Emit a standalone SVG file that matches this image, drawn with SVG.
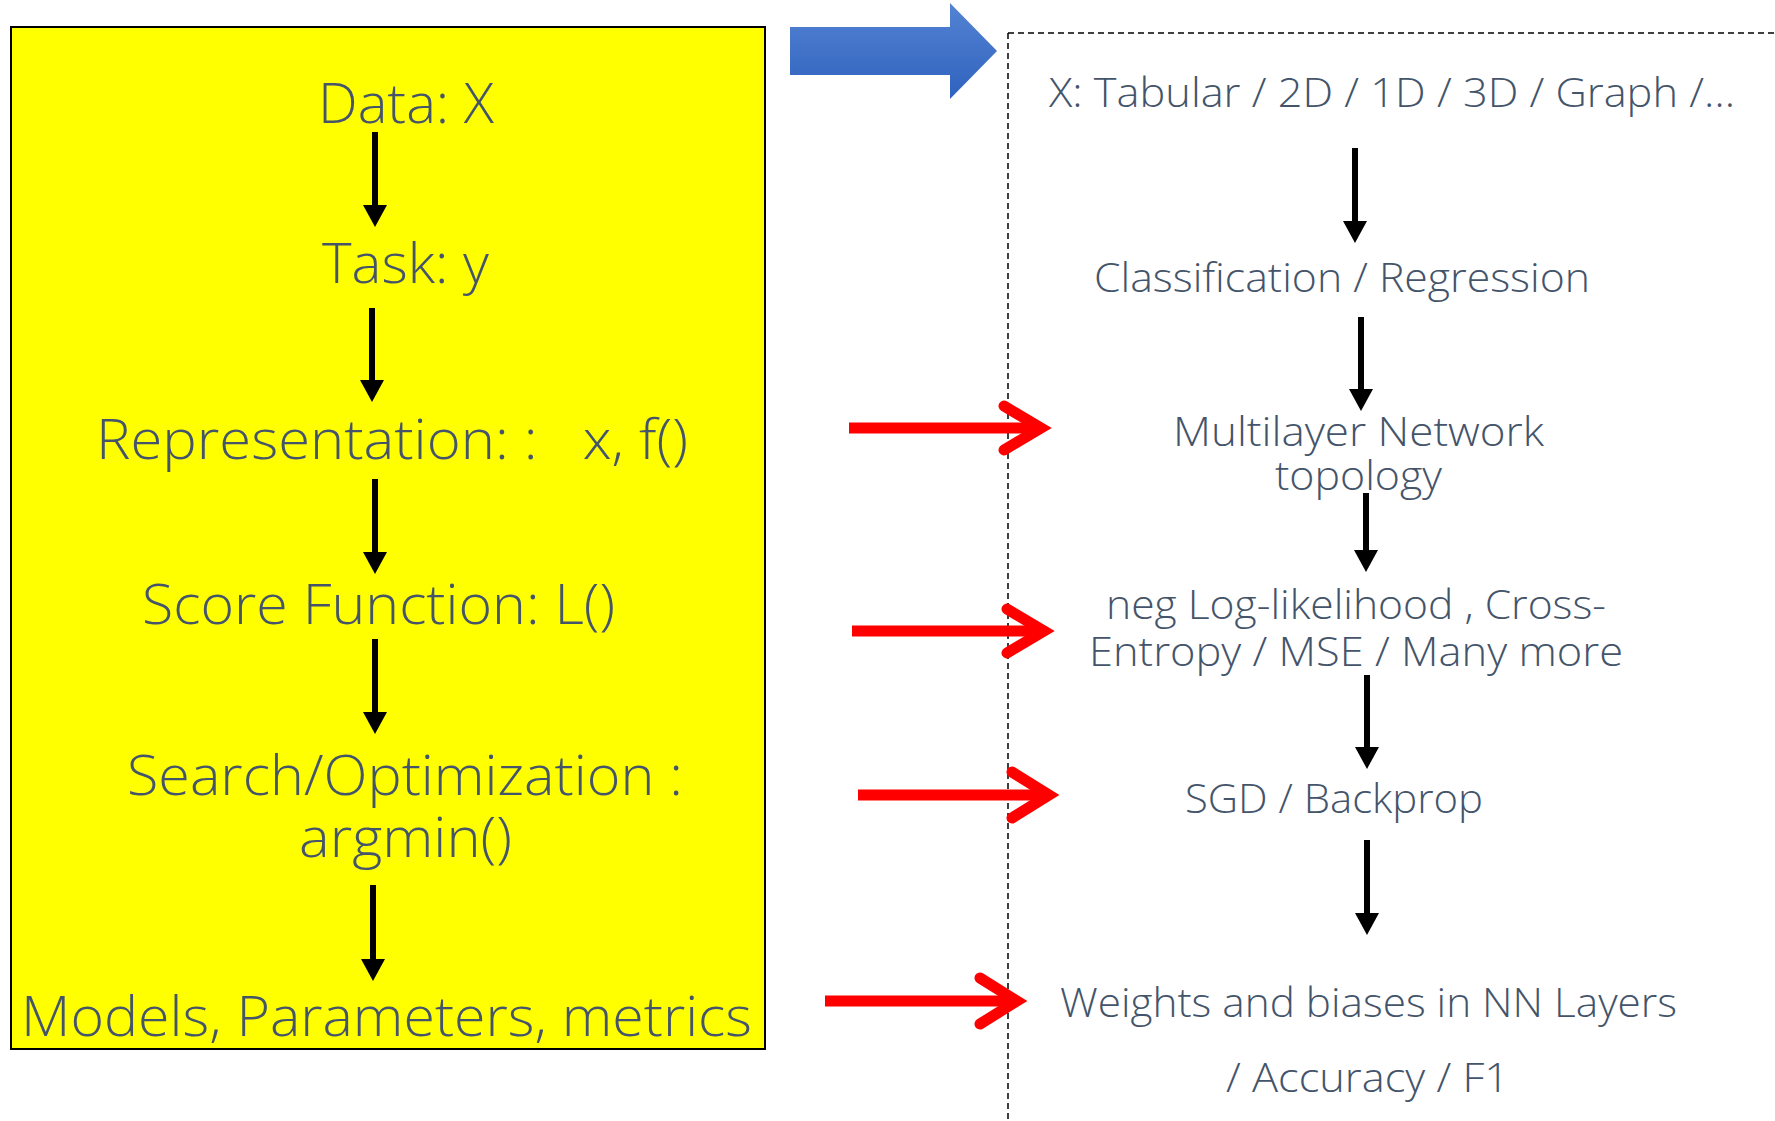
<svg xmlns="http://www.w3.org/2000/svg" width="1775" height="1121" viewBox="0 0 1775 1121">
<style>
.t{font-family:"Open Sans","Noto Sans","Liberation Sans",sans-serif;font-weight:300;fill:#44546A;white-space:pre}
.l{font-size:56px}
.r{font-size:41px}
.blk{stroke:#000;stroke-width:6;fill:none}
.red{stroke:#FF0000;stroke-width:11;fill:none}
.chev{stroke:#FF0000;stroke-width:11;fill:none;stroke-linecap:round;stroke-linejoin:miter}
</style>
<defs>
<marker id="ah" viewBox="0 0 22 24" markerWidth="22" markerHeight="24" markerUnits="userSpaceOnUse" refX="2" refY="12" orient="auto">
<path d="M0,0 L22,12 L0,24 z" fill="#000"/>
</marker>
<linearGradient id="bg" x1="0" y1="0" x2="0" y2="1">
<stop offset="0" stop-color="#5383D3"/>
<stop offset="1" stop-color="#2F62BE"/>
</linearGradient>
</defs>
<rect width="1775" height="1121" fill="#fff"/>

<g id="left-panel">
<rect x="11" y="27" width="754" height="1022" fill="#FFFF00" stroke="#000" stroke-width="2"/>
</g>
<g id="big-arrow">
<polygon points="790,27 950,27 950,3 997,51 950,99 950,75 790,75" fill="url(#bg)"/>
</g>
<g id="right-panel">
<path d="M1008,33 H1775 M1008,33 V1121" stroke="#000" stroke-width="1.5" stroke-dasharray="6,4" fill="none"/>
</g>

<g id="node-data"><text class="t l" x="318" y="123" textLength="176" lengthAdjust="spacingAndGlyphs">Data: X</text></g>
<g id="node-task"><text class="t l" x="322" y="283" textLength="167" lengthAdjust="spacingAndGlyphs">Task: y</text></g>
<g id="node-repr"><text class="t l" x="96" y="459" textLength="592" lengthAdjust="spacingAndGlyphs">Representation: :   x, f()</text></g>
<g id="node-score"><text class="t l" x="142" y="624" textLength="473" lengthAdjust="spacingAndGlyphs">Score Function: L()</text></g>
<g id="node-search">
<text class="t l" x="127" y="795" textLength="556" lengthAdjust="spacingAndGlyphs">Search/Optimization :</text>
<text class="t l" x="299" y="857" textLength="213" lengthAdjust="spacingAndGlyphs">argmin()</text>
</g>
<g id="node-models"><text class="t l" x="21" y="1036" textLength="731" lengthAdjust="spacingAndGlyphs">Models, Parameters, metrics</text></g>

<g id="node-x"><text class="t r" x="1049" y="107" textLength="686" lengthAdjust="spacingAndGlyphs">X: Tabular / 2D / 1D / 3D / Graph /…</text></g>
<g id="node-class"><text class="t r" x="1094" y="292" textLength="496" lengthAdjust="spacingAndGlyphs">Classification / Regression</text></g>
<g id="node-mlp">
<text class="t r" x="1173" y="446" textLength="371" lengthAdjust="spacingAndGlyphs">Multilayer Network</text>
<text class="t r" x="1275" y="490" textLength="167" lengthAdjust="spacingAndGlyphs">topology</text>
</g>
<g id="node-loss">
<text class="t r" x="1106" y="619" textLength="500" lengthAdjust="spacingAndGlyphs">neg Log-likelihood , Cross-</text>
<text class="t r" x="1089" y="666" textLength="534" lengthAdjust="spacingAndGlyphs">Entropy / MSE / Many more</text>
</g>
<g id="node-sgd"><text class="t r" x="1185" y="813" textLength="298" lengthAdjust="spacingAndGlyphs">SGD / Backprop</text></g>
<g id="node-weights">
<text class="t r" x="1060" y="1017" textLength="617" lengthAdjust="spacingAndGlyphs">Weights and biases in NN Layers</text>
<text class="t r" x="1226" y="1092" textLength="283" lengthAdjust="spacingAndGlyphs">/ Accuracy / F1</text>
</g>

<g id="connectors">
<line class="blk" x1="375" y1="132" x2="375" y2="207" marker-end="url(#ah)"/>
<line class="blk" x1="372" y1="308" x2="372" y2="382" marker-end="url(#ah)"/>
<line class="blk" x1="375" y1="479" x2="375" y2="554" marker-end="url(#ah)"/>
<line class="blk" x1="375" y1="639" x2="375" y2="714" marker-end="url(#ah)"/>
<line class="blk" x1="373" y1="885" x2="373" y2="961" marker-end="url(#ah)"/>

<line class="blk" x1="1355" y1="148" x2="1355" y2="223" marker-end="url(#ah)"/>
<line class="blk" x1="1361" y1="317" x2="1361" y2="391" marker-end="url(#ah)"/>
<line class="blk" x1="1366" y1="493" x2="1366" y2="552" marker-end="url(#ah)"/>
<line class="blk" x1="1367" y1="675" x2="1367" y2="749" marker-end="url(#ah)"/>
<line class="blk" x1="1367" y1="840" x2="1367" y2="915" marker-end="url(#ah)"/>

<line class="red" x1="849" y1="428" x2="1036" y2="428"/>
<polyline class="chev" points="1004,406 1041,428 1004,450"/>
<line class="red" x1="852" y1="631" x2="1040" y2="631"/>
<polyline class="chev" points="1007,609 1044,631 1007,653"/>
<line class="red" x1="858" y1="795" x2="1045" y2="795"/>
<polyline class="chev" points="1012,772 1049,795 1012,818"/>
<line class="red" x1="825" y1="1001" x2="1012" y2="1001"/>
<polyline class="chev" points="980,978 1017,1001 980,1024"/>
</g>
</svg>
